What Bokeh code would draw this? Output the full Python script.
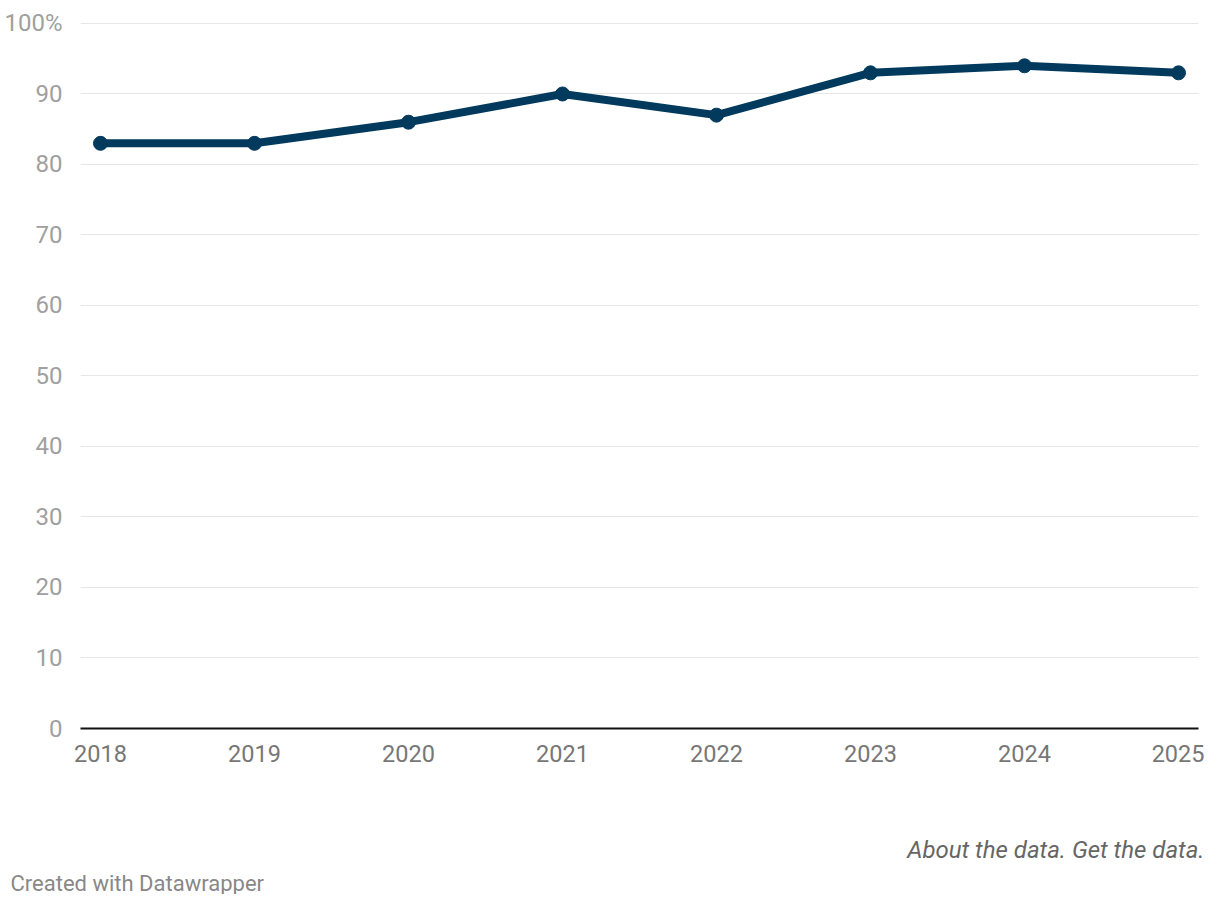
from bokeh.plotting import figure
from bokeh.models import Range1d, FixedTicker, Title
from bokeh.embed import file_html
from bokeh.resources import INLINE

years = [2018, 2019, 2020, 2021, 2022, 2023, 2024, 2025]
values = [83, 83, 86, 90, 87, 93, 94, 93]
y_ticks = [0, 10, 20, 30, 40, 50, 60, 70, 80, 90, 100]
y_labels = {100: "100%"}

FONT = "Roboto"
NAVY = "#023a5e"

span = 1178 - 100
pad = 20 / span * 7
p = figure(width=1204, height=894, output_backend="svg", toolbar_location=None,
           x_range=Range1d(2018 - pad, 2025 + pad), y_range=Range1d(0, 100.14),
           min_border_left=80, min_border_right=6, min_border_top=22, min_border_bottom=166)
p.outline_line_color = None
p.background_fill_color = "white"
p.border_fill_color = "white"

p.xgrid.grid_line_color = None
p.ygrid.grid_line_color = "#e6e6e6"
p.ygrid.grid_line_width = 1
p.yaxis.ticker = FixedTicker(ticks=y_ticks)
p.xaxis.ticker = FixedTicker(ticks=years)

p.yaxis.axis_line_color = None
p.yaxis.major_tick_line_color = None
p.yaxis.minor_tick_line_color = None
p.yaxis.major_label_standoff = 12
p.yaxis.major_label_text_font = FONT
p.yaxis.major_label_text_font_size = "24px"
p.yaxis.major_label_text_color = "#a0a0a0"
p.yaxis.major_label_overrides = y_labels

p.xaxis.axis_line_color = "#111111"
p.xaxis.axis_line_width = 2
p.xaxis.major_tick_line_color = None
p.xaxis.minor_tick_line_color = None
p.xaxis.major_label_standoff = 10
p.xaxis.major_label_text_font = FONT
p.xaxis.major_label_text_font_size = "23.5px"
p.xaxis.major_label_text_color = "#777777"

p.line(years, values, line_color=NAVY, line_width=8, line_join="round")
p.scatter(years, values, size=14, fill_color=NAVY, line_color=NAVY)

spacer = Title(text=" ", text_font=FONT, text_font_size="10px", standoff=43)
p.add_layout(spacer, "below")
t1 = Title(text="About the data. Get the data.", align="right", text_font=FONT,
           text_font_style="italic", text_font_size="24px", text_color="#666666",
           standoff=27, offset=-6)
p.add_layout(t1, "below")
t2 = Title(text="Created with Datawrapper", align="left", text_font=FONT,
           text_font_style="normal", text_font_size="22px", text_color="#888888",
           standoff=-18, offset=-70)
p.add_layout(t2, "below")

open("out.html", "w").write(file_html(p, INLINE))
